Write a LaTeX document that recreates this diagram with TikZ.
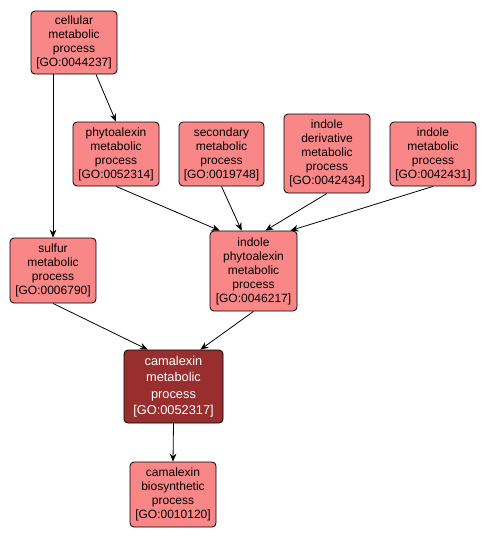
\documentclass[tikz,border=0pt]{standalone}
\usepackage{fontspec}
\setmainfont{Liberation Sans}
\usetikzlibrary{arrows.meta}
\definecolor{goFill}{RGB}{250,135,135}
\definecolor{goDark}{RGB}{152,46,46}
\tikzset{
  gobox/.style={draw=black, line width=0.6pt, rounded corners=3pt, fill=goFill,
    align=center, inner sep=0pt, font=\fontsize{9}{10.5}\selectfont, text=black},
  gomain/.style={gobox, fill=goDark, text=white, font=\fontsize{9.6}{12.4}\selectfont},
  goedge/.style={draw=black, line width=0.6pt, -{Stealth[length=6pt,width=5pt,inset=2pt]}}
}
\begin{document}
\begin{tikzpicture}[x=0.75pt,y=-0.75pt]
\useasboundingbox (0,0) rectangle (486,539);
\fill[white] (0,0) rectangle (486,539);
\node[gobox, minimum width=64.5pt, minimum height=47.25pt] (cell) at (74,42.5) {cellular\\metabolic\\process\\{[GO:0044237]}};
\node[gobox, minimum width=64.5pt, minimum height=48pt] (phyto) at (116,154) {phytoalexin\\metabolic\\process\\{[GO:0052314]}};
\node[gobox, minimum width=63.75pt, minimum height=48pt] (sec) at (221.5,154) {secondary\\metabolic\\process\\{[GO:0019748]}};
\node[gobox, minimum width=64.5pt, minimum height=59.25pt] (ideriv) at (327,153.5) {indole\\derivative\\metabolic\\process\\{[GO:0042434]}};
\node[gobox, minimum width=64.5pt, minimum height=48pt] (imet) at (433,154) {indole\\metabolic\\process\\{[GO:0042431]}};
\node[gobox, minimum width=64.5pt, minimum height=48.75pt] (sulf) at (53,270.5) {sulfur\\metabolic\\process\\{[GO:0006790]}};
\node[gobox, minimum width=65.25pt, minimum height=60pt] (iphyto) at (253.5,271) {indole\\phytoalexin\\metabolic\\process\\{[GO:0046217]}};
\node[gomain, minimum width=74.25pt, minimum height=54.75pt] (cam) at (173.5,386.5) {camalexin\\metabolic\\process\\{[GO:0052317]}};
\node[gobox, minimum width=64.5pt, minimum height=48.75pt] (bio) at (173,494.5) {camalexin\\biosynthetic\\process\\{[GO:0010120]}};

\draw[goedge] ([xshift=16.5pt]cell.south) -- (phyto.north);
\draw[goedge] ([xshift=-15.75pt]cell.south) -- (sulf.north);
\draw[goedge] (phyto.south) -- ([xshift=7.5pt]iphyto.north west);
\draw[goedge] (sec.south) -- ([xshift=24pt]iphyto.north west);
\draw[goedge] (ideriv.south) -- ([xshift=-24pt]iphyto.north east);
\draw[goedge] (imet.south) -- ([xshift=-5.25pt]iphyto.north east);
\draw[goedge] (sulf.south) -- ([xshift=18pt]cam.north west);
\draw[goedge] (iphyto.south) -- ([xshift=-17.25pt]cam.north east);
\draw[goedge] (cam.south) -- (bio.north);
\end{tikzpicture}
\end{document}
